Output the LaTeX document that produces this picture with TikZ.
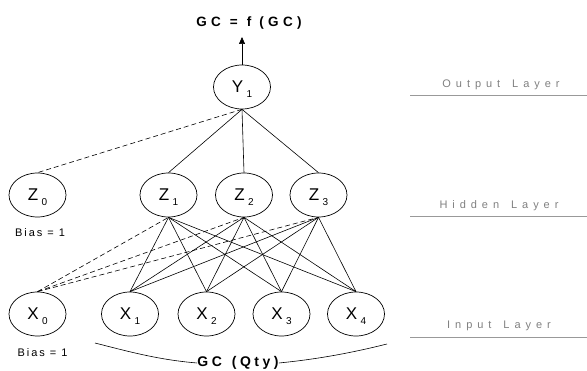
\documentclass[tikz,border=0pt]{standalone}
\usepackage{fontspec}
\setmainfont{Liberation Sans}
\usetikzlibrary{arrows.meta,shapes.geometric}
\newcommand{\nsub}[2]{#1\hspace{3.5pt}\raisebox{-5pt}[0pt][0pt]{\fontsize{10}{10}\selectfont #2}}
\begin{document}
\begin{tikzpicture}[x=1pt,y=-1pt,
  neuron/.style={draw,ellipse,minimum width=57pt,minimum height=44pt,inner sep=0pt,line width=0.7pt,font=\fontsize{17}{17}\selectfont},
  link/.style={line width=0.6pt},
  biaslink/.style={line width=0.6pt,dash pattern=on 5pt off 3pt},
  layerlab/.style={text=black!50,inner sep=0pt,font=\fontsize{11}{12}\selectfont\addfontfeature{LetterSpace=45}},
  layerline/.style={draw=black!40,line width=0.8pt},
  biaslab/.style={inner sep=0pt,font=\fontsize{11}{12}\selectfont\addfontfeature{LetterSpace=18}},
  boldlab/.style={inner sep=0pt,font=\fontsize{13.5}{14}\selectfont\bfseries\addfontfeature{LetterSpace=32}},
  qtylab/.style={inner sep=0pt,font=\fontsize{14}{15}\selectfont\bfseries\addfontfeature{LetterSpace=25}}
]
\useasboundingbox (0,0) rectangle (587,371);

% nodes
\node[neuron] (Y1) at (242,87) {\nsub{Y}{1}};
\node[neuron] (Z0) at (37.5,195) {\nsub{Z}{0}};
\node[neuron] (Z1) at (168.5,195) {\nsub{Z}{1}};
\node[neuron] (Z2) at (244,195) {\nsub{Z}{2}};
\node[neuron] (Z3) at (318.5,195) {\nsub{Z}{3}};
\node[neuron] (X0) at (37.5,314) {\nsub{X}{0}};
\node[neuron] (X1) at (130,314) {\nsub{X}{1}};
\node[neuron] (X2) at (206.5,314) {\nsub{X}{2}};
\node[neuron] (X3) at (281.5,314) {\nsub{X}{3}};
\node[neuron] (X4) at (356,314) {\nsub{X}{4}};

% output text and arrow
\node[boldlab] (out) at (249,23.5) {GC\hspace{9pt}=\hspace{9pt}f\hspace{8pt}(GC)};
\coordinate (tip) at (242,37);
\draw[link,-{Triangle[length=7pt,width=6pt]}] (Y1.north) -- (tip);

% links
\draw[biaslink] (Y1.south) -- (Z0.north);
\foreach \z in {Z1,Z2,Z3} {
  \draw[link] (Y1.south) -- (\z.north);
  \draw[biaslink] (X0.north) -- (\z.south);
  \foreach \x in {X1,X2,X3,X4} {
    \draw[link] (\z.south) -- (\x.north);
  }
}

% bias labels
\node[biaslab] (b1) at (40,233) {Bias = 1};
\node[biaslab] (b2) at (42.5,353) {Bias = 1};

% GC (Qty)
\node[qtylab] (qty) at (238,363) {GC\hspace{10pt}(Qty)};
\coordinate (ql) at (95,343);
\coordinate (qr) at (387,344);
\draw[link] (ql) .. controls (130,352) and (160,360) .. (qty.west);
\draw[link] (qty.east) .. controls (320,359) and (355,352) .. (qr);

% layer labels
\node[layerlab] (lo) at (501,85) {Output\hspace{12pt}Layer};
\node[layerlab] (lh) at (499,206) {Hidden\hspace{12pt}Layer};
\node[layerlab] (li) at (499,326) {Input\hspace{12pt}Layer};
\coordinate (lo1) at (410,95.5);  \coordinate (lo2) at (587,95.5);
\coordinate (lh1) at (410,216);   \coordinate (lh2) at (587,216);
\coordinate (li1) at (410,337);   \coordinate (li2) at (587,337);
\draw[layerline] (lo1) -- (lo2);
\draw[layerline] (lh1) -- (lh2);
\draw[layerline] (li1) -- (li2);
\end{tikzpicture}
\end{document}
